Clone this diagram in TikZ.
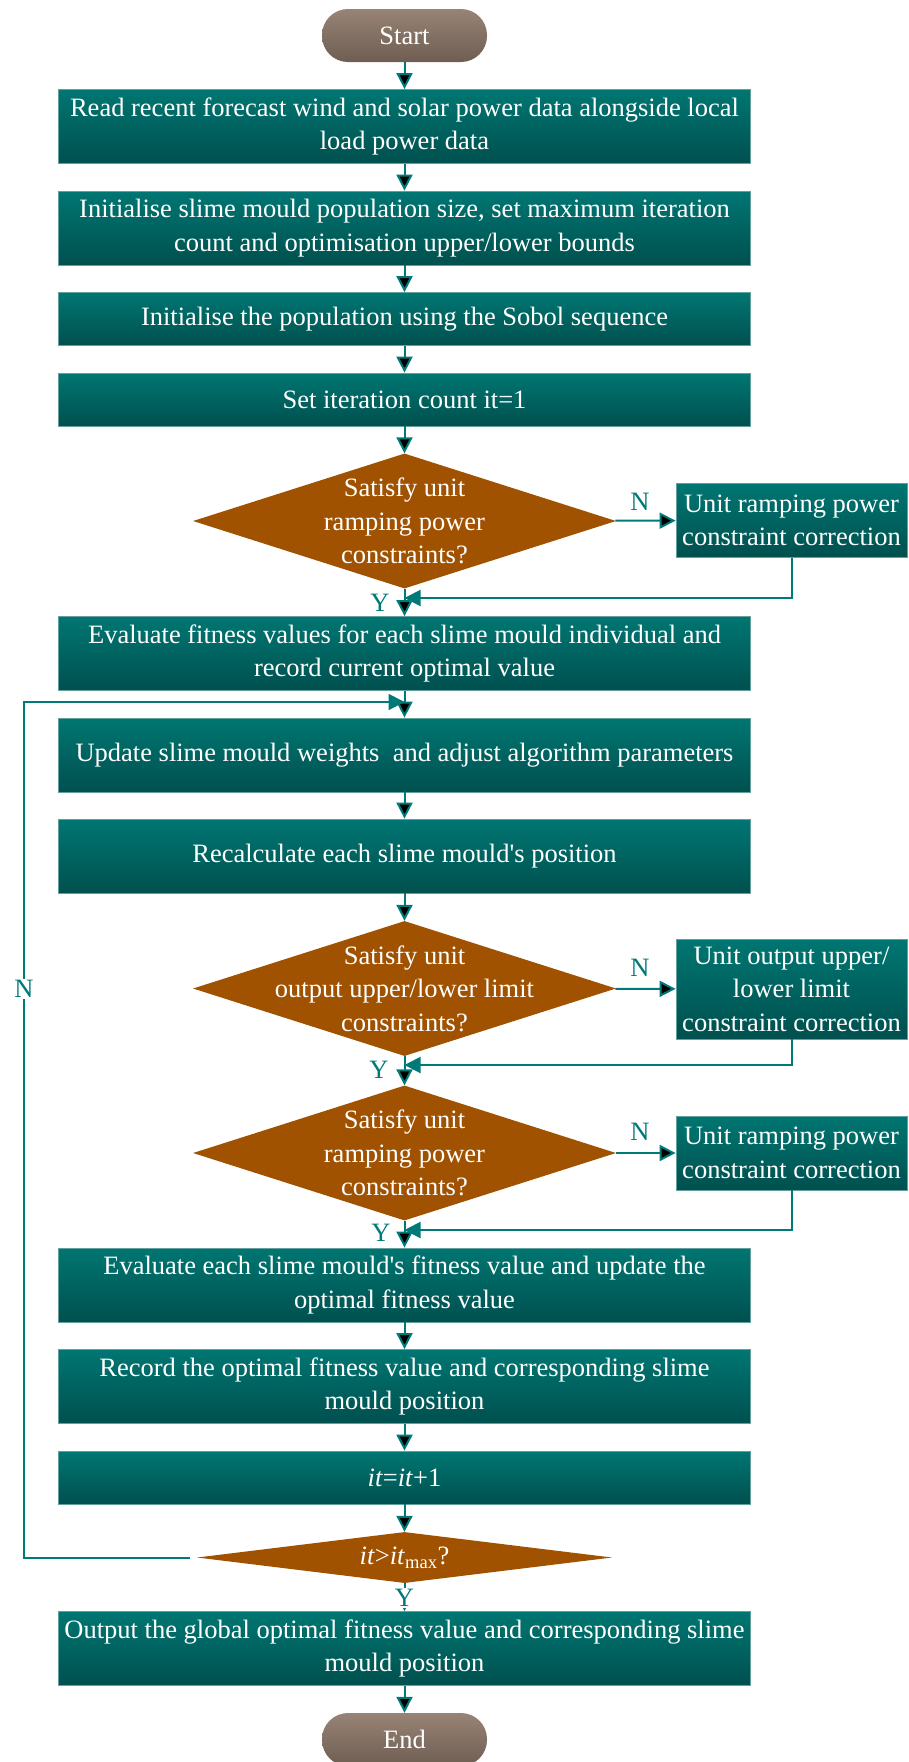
\documentclass[tikz,border=0pt]{standalone}
\usepackage{fontspec}
\setmainfont{Liberation Serif}
\usetikzlibrary{shapes.geometric,arrows.meta}
\definecolor{boxtop}{RGB}{0,118,114}
\definecolor{boxbot}{RGB}{0,80,78}
\definecolor{flowline}{RGB}{0,122,120}
\definecolor{decfill}{RGB}{160,82,0}
\definecolor{termtop}{RGB}{152,132,118}
\definecolor{termbot}{RGB}{110,93,82}
\definecolor{boxedge}{RGB}{100,160,158}
\begin{document}
\begin{tikzpicture}[x=1pt, y=-1pt,
  every node/.style={font=\fontsize{26.5}{33.5}\selectfont},
  term/.style={shape=rectangle, rounded corners=26pt, top color=termtop, bottom color=termbot, text=white, minimum width=165pt, minimum height=53pt, inner sep=0pt},
  process/.style={shape=rectangle, top color=boxtop, bottom color=boxbot, draw=boxedge, line width=0.8pt, text=white, align=center, minimum width=692pt, minimum height=74pt, inner sep=0pt},
  fixbox/.style={process, minimum width=231pt},
  decision/.style={shape=diamond, fill=decfill, inner sep=0pt, minimum width=423pt, minimum height=135pt},
  dectext/.style={text=white, align=center},
  ynlabel/.style={text=flowline, inner sep=1pt},
  flow/.style={-{Triangle[width=16pt,length=16pt]}, line width=2pt, draw=flowline}
]
\useasboundingbox (0,0) rectangle (908,1762);
\node[term] (start) at (404.5,35.5) {Start};
\node[process] (read) at (404.5,126.5) {Read recent forecast wind and solar power data alongside local\\load power data};
\node[process] (init) at (404.5,228) {Initialise slime mould population size, set maximum iteration\\count and optimisation upper/lower bounds};
\node[process, minimum height=53pt] (sobol) at (404.5,319) {Initialise the population using the Sobol sequence};
\node[process, minimum height=53pt] (setit) at (404.5,399.5) {Set iteration count it=1};
\node[decision, label={[dectext]center:Satisfy unit\\ramping power\\constraints?}] (ramp1) at (404.5,521) {};
\node[fixbox] (fix1) at (791.5,520.5) {Unit ramping power\\constraint correction};
\node[process] (evalfit) at (404.5,653.5) {Evaluate fitness values for each slime mould individual and\\record current optimal value};
\node[process] (weights) at (404.5,755) {Update slime mould weights\ \ and adjust algorithm parameters};
\node[process] (recalc) at (404.5,856) {Recalculate each slime mould\textquotesingle s position};
\node[decision, label={[dectext]center:Satisfy unit\\output upper/lower limit\\constraints?}] (limit) at (404.5,988.5) {};
\node[fixbox, minimum height=100pt] (fix2) at (791.5,989) {Unit output upper/\\lower limit\\constraint correction};
\node[decision, label={[dectext]center:Satisfy unit\\ramping power\\constraints?}] (ramp2) at (404.5,1153) {};
\node[fixbox] (fix3) at (791.5,1153) {Unit ramping power\\constraint correction};
\node[process] (evalbest) at (404.5,1285) {Evaluate each slime mould\textquotesingle s fitness value and update the\\optimal fitness value};
\node[process] (record) at (404.5,1386.5) {Record the optimal fitness value and corresponding slime\\mould position};
\node[process, minimum height=53pt] (incr) at (404.5,1477.5) {\textit{it}=\textit{it}+1};
\node[decision, minimum width=415pt, minimum height=51pt, label={[dectext]center:\textit{it}>\textit{it}\textsubscript{max}?}] (itmax) at (404.5,1557.5) {};
\node[process] (output) at (404.5,1648.5) {Output the global optimal fitness value and corresponding slime\\mould position};
\node[term] (end) at (404.5,1739.5) {End};
\coordinate (j0) at (404.5,702);
\coordinate (j1) at (404.5,598);
\coordinate (j2) at (404.5,1065);
\coordinate (j3) at (404.5,1230);
\path [flow] (start) edge (read);
\path [flow] (read) edge (init);
\path [flow] (init) edge (sobol);
\path [flow] (sobol) edge (setit);
\path [flow] (setit) edge (ramp1);
\path [flow] (ramp1) edge (evalfit);
\path [flow] (ramp1) edge (fix1);
\draw [flow] (fix1.south) |- (j1);
\path [flow] (evalfit) edge (weights);
\path [flow] (weights) edge (recalc);
\path [flow] (recalc) edge (limit);
\path [flow] (limit) edge (ramp2);
\path [flow] (limit) edge (fix2);
\draw [flow] (fix2.south) |- (j2);
\path [flow] (ramp2) edge (evalbest);
\path [flow] (ramp2) edge (fix3);
\draw [flow] (fix3.south) |- (j3);
\path [flow] (evalbest) edge (record);
\path [flow] (record) edge (incr);
\path [flow] (incr) edge (itmax);
\path [flow] (itmax) edge (output);
\path [flow] (output) edge (end);
\draw [flow, shorten <=7pt] (itmax.west) -- ++(-173,0) |- (j0);
\node[ynlabel] (n1) at (640,502) {N};
\node[ynlabel] (y1) at (380,603) {Y};
\node[ynlabel] (n2) at (640,968) {N};
\node[ynlabel] (y2) at (379,1070) {Y};
\node[ynlabel] (n3) at (640,1132) {N};
\node[ynlabel] (y3) at (381,1233) {Y};
\node[ynlabel, fill=white] (y4) at (404.5,1598) {Y};
\node[ynlabel, fill=white] (n4) at (24,989) {N};
\end{tikzpicture}
\end{document}
